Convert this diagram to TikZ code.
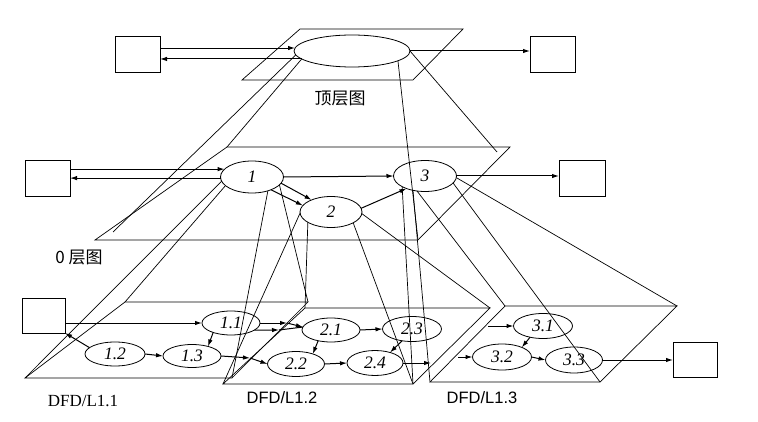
\documentclass[tikz,border=0pt]{standalone}
\usepackage{fontspec}
\setmainfont{Liberation Serif}
\setsansfont{Liberation Sans}
\newfontfamily\cjkfont{Noto Sans CJK SC}
\usetikzlibrary{shapes.geometric,arrows.meta}

\begin{document}
\begin{tikzpicture}[x=1pt,y=-1pt,
  ext/.style={draw,line width=.8pt,minimum width=45pt,minimum height=36pt,inner sep=0pt,outer sep=0pt},
  proc/.style={draw,ellipse,line width=.8pt,inner sep=0pt,outer sep=0pt,
               font=\itshape\fontsize{17.5}{17.5}\selectfont},
  sub/.style={proc,minimum width=58pt,minimum height=24pt},
  plane/.style={draw,line width=.7pt},
  link/.style={draw,line width=.7pt},
  flow/.style={draw,line width=1pt,-{Latex[length=7pt,width=4.5pt]}},
  title/.style={font=\cjkfont\fontsize{17}{17}\selectfont}]
  \useasboundingbox (0,0) rectangle (758,422);

  % planes
  \draw[plane] (242,80) -- (413,80) -- (463,29) -- (300,29) -- cycle;
  \coordinate (l0bl) at (95,240);  \coordinate (l0br) at (418,240);
  \coordinate (l0tr) at (510,147); \coordinate (l0tl) at (227,147);
  \draw[plane] (l0bl) -- (l0br) -- (l0tr) -- (l0tl) -- cycle;
  \coordinate (aBL) at (25,378);  \coordinate (aBR) at (232,378);
  \coordinate (aTR) at (308,302); \coordinate (aTL) at (125,302);
  \draw[plane] (aBL) -- (aBR) -- (aTR) -- (aTL) -- cycle;
  \coordinate (bBL) at (223,384); \coordinate (bBR) at (413,384);
  \coordinate (bTR) at (490,308); \coordinate (bTL) at (305,308);
  \draw[plane] (bBL) -- (bBR) -- (bTR) -- (bTL) -- cycle;
  \coordinate (cBL) at (430,382); \coordinate (cBR) at (600,382);
  \coordinate (cTR) at (677,306); \coordinate (cTL) at (505,306);
  \draw[plane] (cBL) -- (cBR) -- (cTR) -- (cTL) -- cycle;

  % top level
  \node[ext] (tl) at (137.5,54) {};
  \node[ext] (tr) at (552.5,54) {};
  \node[proc,minimum width=116pt,minimum height=32pt] (top) at (352,51) {};
  \node[title] (ltop) at (340,98) {顶层图};

  % level 0
  \node[ext] (b0) at (47.5,178) {};
  \node[ext,minimum width=46pt] (r0) at (582,178) {};
  \node[proc,minimum width=63pt,minimum height=32pt] (p1) at (252,177) {1};
  \node[proc,minimum width=62pt,minimum height=31pt] (p2) at (331,212) {2};
  \node[proc,minimum width=63pt,minimum height=31pt] (p3) at (425,176) {3};
  \node[title] (l0) at (79,257) {0 层图};

  % level 1
  \node[ext,minimum width=43pt,minimum height=35pt] (b1) at (43.5,315.5) {};
  \node[ext,minimum width=44pt,minimum height=35pt] (r1) at (695,359.5) {};
  \node[sub] (q11) at (231,323) {1.1};
  \node[sub,minimum width=60pt] (q12) at (115,354) {1.2};
  \node[sub,minimum height=23pt] (q13) at (192,356) {1.3};
  \node[sub] (q21) at (331,330) {2.1};
  \node[sub,minimum width=57pt,minimum height=25pt] (q22) at (296,364) {2.2};
  \node[sub,minimum width=59pt,minimum height=25pt] (q23) at (412,329) {2.3};
  \node[sub,minimum width=56pt,minimum height=25pt] (q24) at (375,363) {2.4};
  \node[sub,minimum width=59pt,minimum height=25pt] (q31) at (543,326) {3.1};
  \node[sub,minimum width=59pt,minimum height=26pt] (q32) at (502,357) {3.2};
  \node[sub,minimum width=57pt,minimum height=26pt] (q33) at (574,360) {3.3};
  \node[font=\fontsize{17}{17}\selectfont] (d11) at (83,401) {DFD/L1.1};
  \node[font=\sffamily\fontsize{16.5}{16.5}\selectfont] (d12) at (282,398) {DFD/L1.2};
  \node[font=\sffamily\fontsize{16.5}{16.5}\selectfont] (d13) at (482,398) {DFD/L1.3};

  % cone lines
  \coordinate (l0x) at (113,232);
  \coordinate (l0y) at (497,152);
  \draw[link] (top.184) -- (l0x);
  \draw[link] (top.189) -- (l0tl);
  \draw[link] (top.-12) -- (l0br);
  \draw[link] (top.east) -- (l0y);
  \draw[link] (p1.188) -- (aBL);
  \draw[link] (p1.198) -- (aTL);
  \draw[link] (p1.-41) -- (aBR);
  \draw[link] (p1.-16) -- (aTR);
  \draw[link] (p2.182) -- (bBL);
  \draw[link] (p2.204) -- (bTL);
  \draw[link] (p2.-26) -- (bBR);
  \draw[link] (p2.-3) -- (bTR);
  \draw[link] (p3.230) -- (cBL);
  \draw[link] (p3.205) -- (bBR);
  \draw[link] (p3.242) -- (cTL);
  \draw[link] (p3.-14) -- (cBR);
  \draw[link] (p3.-3) -- (cTR);

  % flows, top
  \draw[flow] (tl.east |- top.177) -- (top.177);
  \draw[flow] (top.189) -- (tl.east |- top.189);
  \draw[flow] (top.east) -- (tr.west |- top.east);
  % flows, level 0
  \draw[flow] (b0.east |- p1.164) -- (p1.164);
  \draw[flow] (p1.182) -- (b0.east |- p1.182);
  \draw[flow] (p1.east) -- (p3.west);
  \draw[flow] (p1.-12) -- (p2.148);
  \draw[flow] (p1.-34) -- (p2.167);
  \draw[flow] (p2.7) -- (p3.214);
  \draw[flow] (p3.east) -- (p3.east -| r0.west);
  % flows, level 1
  \coordinate (m1) at (287,323); \coordinate (m2) at (279,330);
  \coordinate (m3) at (250,358); \coordinate (m4) at (431,363);
  \coordinate (m5) at (458,357); \coordinate (m6) at (488,326);
  \draw[flow] (b1.east |- q11.west) -- (q11.west);
  \draw[flow] (q12.166) -- (b1.south east);
  \draw[flow] (q12.east) -- (q13.west);
  \draw[flow] (q11.208) -- (q13.31);
  \draw[flow] (q11.east) -- (m1);
  \draw[flow] (m1) -- (q21.174);
  \draw[flow] (q11.-17) -- (m2);
  \draw[line width=1pt] (m2) -- (q21.174);
  \draw[flow] (q13.east) -- (m3);
  \draw[flow] (m3) -- (q22.west);
  \draw[flow] (q21.east) -- (q23.west);
  \draw[flow] (q21.220) -- (q22.31);
  \draw[flow] (q22.east) -- (q24.west);
  \draw[flow] (q23.230) -- (q24.35);
  \draw[flow] (q24.east) -- (m4);
  \draw[flow] (m5) -- (q32.west);
  \draw[flow] (m6) -- (q31.west);
  \draw[flow] (q31.221) -- (q32.26);
  \draw[flow] (q32.east) -- (q33.west);
  \draw[flow] (q33.east) -- (q33.east -| r1.west);
\end{tikzpicture}
\end{document}
